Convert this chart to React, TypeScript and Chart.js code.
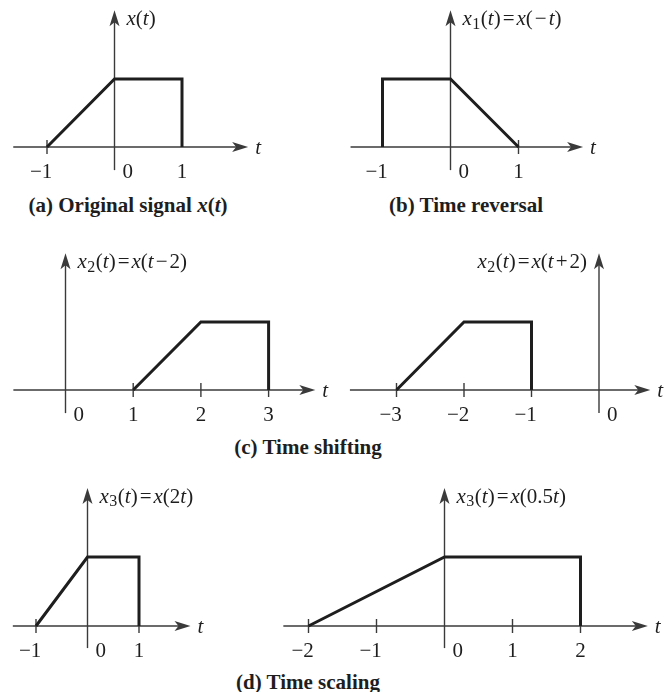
import React, { useEffect, useRef } from "react";
import { Chart, registerables } from "chart.js";

Chart.register(...registerables);

// Signal breakpoints: time instants and amplitudes of each waveform
const origT = [-1, 0, 1, 1];
const origX = [0, 1, 1, 0];
const revT = [-1, -1, 0, 1];
const revX = [0, 1, 1, 0];
const delayT = [1, 2, 3, 3];
const delayX = [0, 1, 1, 0];
const advanceT = [-3, -2, -1, -1];
const advanceX = [0, 1, 1, 0];
const compressT = [-1, 0, 1, 1];
const compressX = [0, 1, 1, 0];
const stretchT = [-2, 0, 2, 2];
const stretchX = [0, 1, 1, 0];

// Tick marks on each time axis, and the numbers written beneath it
const origTicks = [-1];
const origTickLabels = [-1, 0, 1];
const revTicks = [1];
const revTickLabels = [-1, 0, 1];
const delayTicks = [1, 2, 3];
const delayTickLabels = [0, 1, 2, 3];
const advanceTicks = [-3, -2, -1];
const advanceTickLabels = [-3, -2, -1, 0];
const compressTicks = [-1, 1];
const compressTickLabels = [-1, 0, 1];
const stretchTicks = [-2, -1, 1, 2];
const stretchTickLabels = [-2, -1, 0, 1, 2];

// Function names written beside the amplitude axes ("_" marks a subscript)
const fnNames = [
  "x(t)",
  "x_1(t)=x(\u2212t)",
  "x_2(t)=x(t\u22122)",
  "x_2(t)=x(t+2)",
  "x_3(t)=x(2t)",
  "x_3(t)=x(0.5t)",
];

const INK = "#1e1e1e";
const AXIS = "#3a3a3a";
const SERIF = '"Liberation Serif", "Times New Roman", serif';

type Panel = {
  t: number[];
  x: number[];
  ticks: number[];
  labels: number[];
  fn: string;
  fnAlign: "left" | "right";
  rect: [number, number, number, number]; // canvas left, top, width, height
  origin: [number, number]; // pixel position of (0, 0)
  unit: [number, number]; // pixels per unit along t and amplitude
  axisT: [number, number]; // extent of the time axis
  axisX: [number, number]; // extent of the amplitude axis
};

const panels: Panel[] = [
  {
    t: origT, x: origX, ticks: origTicks, labels: origTickLabels, fn: fnNames[0], fnAlign: "left",
    rect: [0, 0, 330, 192], origin: [114.5, 147], unit: [67.5, 68], axisT: [-1.5, 1.98], axisX: [-0.34, 2.01],
  },
  {
    t: revT, x: revX, ticks: revTicks, labels: revTickLabels, fn: fnNames[1], fnAlign: "left",
    rect: [330, 0, 335, 192], origin: [450.5, 147], unit: [68, 68], axisT: [-1.47, 1.95], axisX: [-0.34, 2.01],
  },
  {
    t: delayT, x: delayX, ticks: delayTicks, labels: delayTickLabels, fn: fnNames[2], fnAlign: "left",
    rect: [0, 240, 335, 192], origin: [65.5, 390], unit: [67.7, 68], axisT: [-0.77, 3.69], axisX: [-0.34, 2.01],
  },
  {
    t: advanceT, x: advanceX, ticks: advanceTicks, labels: advanceTickLabels, fn: fnNames[3], fnAlign: "right",
    rect: [335, 240, 330, 192], origin: [599, 390], unit: [67.5, 68], axisT: [-3.69, 0.76], axisX: [-0.34, 2.01],
  },
  {
    t: compressT, x: compressX, ticks: compressTicks, labels: compressTickLabels, fn: fnNames[4], fnAlign: "left",
    rect: [0, 475, 240, 192], origin: [87.5, 626], unit: [51.5, 69], axisT: [-1.45, 2.0], axisX: [-0.32, 2.0],
  },
  {
    t: stretchT, x: stretchX, ticks: stretchTicks, labels: stretchTickLabels, fn: fnNames[5], fnAlign: "left",
    rect: [240, 475, 425, 192], origin: [444.5, 626], unit: [68, 69], axisT: [-2.37, 2.99], axisX: [-0.32, 2.0],
  },
];

type Seg = { s: string; k: "i" | "r" | "sub"; pad: number };

// Split a name into italic letters, upright symbols and subscripts;
// operators get a little breathing room on both sides.
function parseName(name: string): Seg[] {
  const out: Seg[] = [];
  for (let i = 0; i < name.length; i++) {
    const c = name[i];
    if (c === "_") {
      out.push({ s: name[i + 1], k: "sub", pad: 0.5 });
      i++;
    } else if (c === "=" || c === "\u2212" || c === "+") {
      out.push({ s: c, k: "r", pad: 2 });
    } else {
      out.push({ s: c, k: c === "x" || c === "t" ? "i" : "r", pad: 0 });
    }
  }
  return out;
}

function segFont(k: Seg["k"]) {
  if (k === "i") return `italic 21px ${SERIF}`;
  if (k === "sub") return `16px ${SERIF}`;
  return `21px ${SERIF}`;
}

function drawRich(ctx: CanvasRenderingContext2D, text: string, x: number, y: number, align: "left" | "right") {
  const segs = parseName(text);
  let total = 0;
  const widths = segs.map((g) => {
    ctx.font = segFont(g.k);
    const w = ctx.measureText(g.s).width + 2 * g.pad;
    total += w;
    return w;
  });
  let cx = align === "left" ? x : x - total;
  ctx.textAlign = "left";
  ctx.textBaseline = "middle";
  segs.forEach((g, i) => {
    ctx.font = segFont(g.k);
    ctx.fillText(g.s, cx + g.pad, g.k === "sub" ? y + 5 : y);
    cx += widths[i];
  });
}

function arrowHead(ctx: CanvasRenderingContext2D, x: number, y: number, angle: number) {
  const L = 16, W = 5, N = 4;
  ctx.save();
  ctx.translate(x, y);
  ctx.rotate(angle);
  ctx.beginPath();
  ctx.moveTo(0, 0);
  ctx.lineTo(-L, -W);
  ctx.lineTo(-L + N, 0);
  ctx.lineTo(-L, W);
  ctx.closePath();
  ctx.fill();
  ctx.restore();
}

function axesPlugin(p: Panel) {
  return {
    id: "signalAxes",
    beforeDatasetsDraw(chart: Chart) {
      const ctx = chart.ctx;
      const xs = chart.scales.x;
      const ys = chart.scales.y;
      const X = (v: number) => xs.getPixelForValue(v);
      const Y = (v: number) => ys.getPixelForValue(v);
      const x0 = X(0);
      const y0 = Y(0);
      ctx.save();
      ctx.strokeStyle = AXIS;
      ctx.fillStyle = AXIS;
      ctx.lineWidth = 1.4;
      ctx.lineCap = "butt";
      // time axis
      const xa = X(p.axisT[0]);
      const xb = X(p.axisT[1]);
      ctx.beginPath();
      ctx.moveTo(xa, y0);
      ctx.lineTo(xb - 10, y0);
      ctx.stroke();
      arrowHead(ctx, xb, y0, 0);
      // amplitude axis
      const yb = Y(p.axisX[0]);
      const yt = Y(p.axisX[1]);
      ctx.beginPath();
      ctx.moveTo(x0, yb);
      ctx.lineTo(x0, yt + 10);
      ctx.stroke();
      arrowHead(ctx, x0, yt, -Math.PI / 2);
      // tick marks
      p.ticks.forEach((v) => {
        const px = X(v);
        ctx.beginPath();
        ctx.moveTo(px, y0 - 7);
        ctx.lineTo(px, y0 + 7);
        ctx.stroke();
      });
      ctx.restore();
    },
    afterDatasetsDraw(chart: Chart) {
      const ctx = chart.ctx;
      const xs = chart.scales.x;
      const ys = chart.scales.y;
      const X = (v: number) => xs.getPixelForValue(v);
      const Y = (v: number) => ys.getPixelForValue(v);
      const x0 = X(0);
      const y0 = Y(0);
      ctx.save();
      ctx.fillStyle = INK;
      ctx.textBaseline = "middle";
      // tick numbers: digits centred on the tick, minus sign hanging left
      ctx.font = `21px ${SERIF}`;
      p.labels.forEach((v) => {
        const ly = y0 + 25;
        if (v === 0) {
          ctx.textAlign = "left";
          ctx.fillText("0", x0 + 8, ly);
        } else {
          const digits = String(Math.abs(v));
          const w = ctx.measureText(digits).width;
          ctx.textAlign = "right";
          ctx.fillText((v < 0 ? "\u2212" : "") + digits, X(v) + w / 2, ly);
        }
      });
      // time-axis name
      ctx.font = `italic 21px ${SERIF}`;
      ctx.textAlign = "left";
      ctx.fillText("t", X(p.axisT[1]) + 7, y0 + 1);
      // function name
      const yt = Y(p.axisX[1]);
      if (p.fnAlign === "left") drawRich(ctx, p.fn, x0 + 12, yt + 9, "left");
      else drawRich(ctx, p.fn, x0 - 12, yt + 9, "right");
      ctx.restore();
    },
  };
}

function SignalPanel({ p }: { p: Panel }) {
  const ref = useRef<HTMLCanvasElement>(null);
  const [left, top, w, h] = p.rect;
  useEffect(() => {
    const [ox, oy] = p.origin;
    const [ux, uy] = p.unit;
    const chart = new Chart(ref.current!, {
      type: "scatter",
      data: {
        datasets: [
          {
            data: p.t.map((v, i) => ({ x: v, y: p.x[i] })),
            showLine: true,
            pointRadius: 0,
            borderColor: INK,
            borderWidth: 3,
            borderJoinStyle: "miter",
            borderCapStyle: "butt",
            tension: 0,
            clip: false as any,
          },
        ],
      },
      options: {
        responsive: false,
        maintainAspectRatio: false,
        animation: false,
        events: [],
        layout: { padding: 0 },
        plugins: { legend: { display: false }, tooltip: { enabled: false } },
        scales: {
          x: { type: "linear", display: false, min: (left - ox) / ux, max: (left + w - ox) / ux },
          y: { type: "linear", display: false, min: (oy - top - h) / uy, max: (oy - top) / uy },
        },
      },
      plugins: [axesPlugin(p)],
    });
    return () => chart.destroy();
  }, [p]);
  return (
    <canvas
      ref={ref}
      width={w}
      height={h}
      style={{ position: "absolute", left, top, width: w, height: h }}
    />
  );
}

function Caption({ cx, cy, children }: { cx: number; cy: number; children: React.ReactNode }) {
  return (
    <div
      style={{
        position: "absolute",
        left: cx - 200,
        top: cy - 12,
        width: 400,
        textAlign: "center",
        font: `bold 21px ${SERIF}`,
        lineHeight: "24px",
        color: INK,
        whiteSpace: "nowrap",
      }}
    >
      {children}
    </div>
  );
}

export default function App() {
  return (
    <div style={{ position: "absolute", left: 0, top: 0, width: 665, height: 692, background: "#fff", overflow: "hidden" }}>
      {panels.map((p, i) => (
        <SignalPanel key={i} p={p} />
      ))}
      <Caption cx={128} cy={205}>
        (a) Original signal <i>x</i>(<i>t</i>)
      </Caption>
      <Caption cx={466} cy={205}>(b) Time reversal</Caption>
      <Caption cx={308} cy={447}>(c) Time shifting</Caption>
      <Caption cx={308} cy={682}>(d) Time scaling</Caption>
    </div>
  );
}
